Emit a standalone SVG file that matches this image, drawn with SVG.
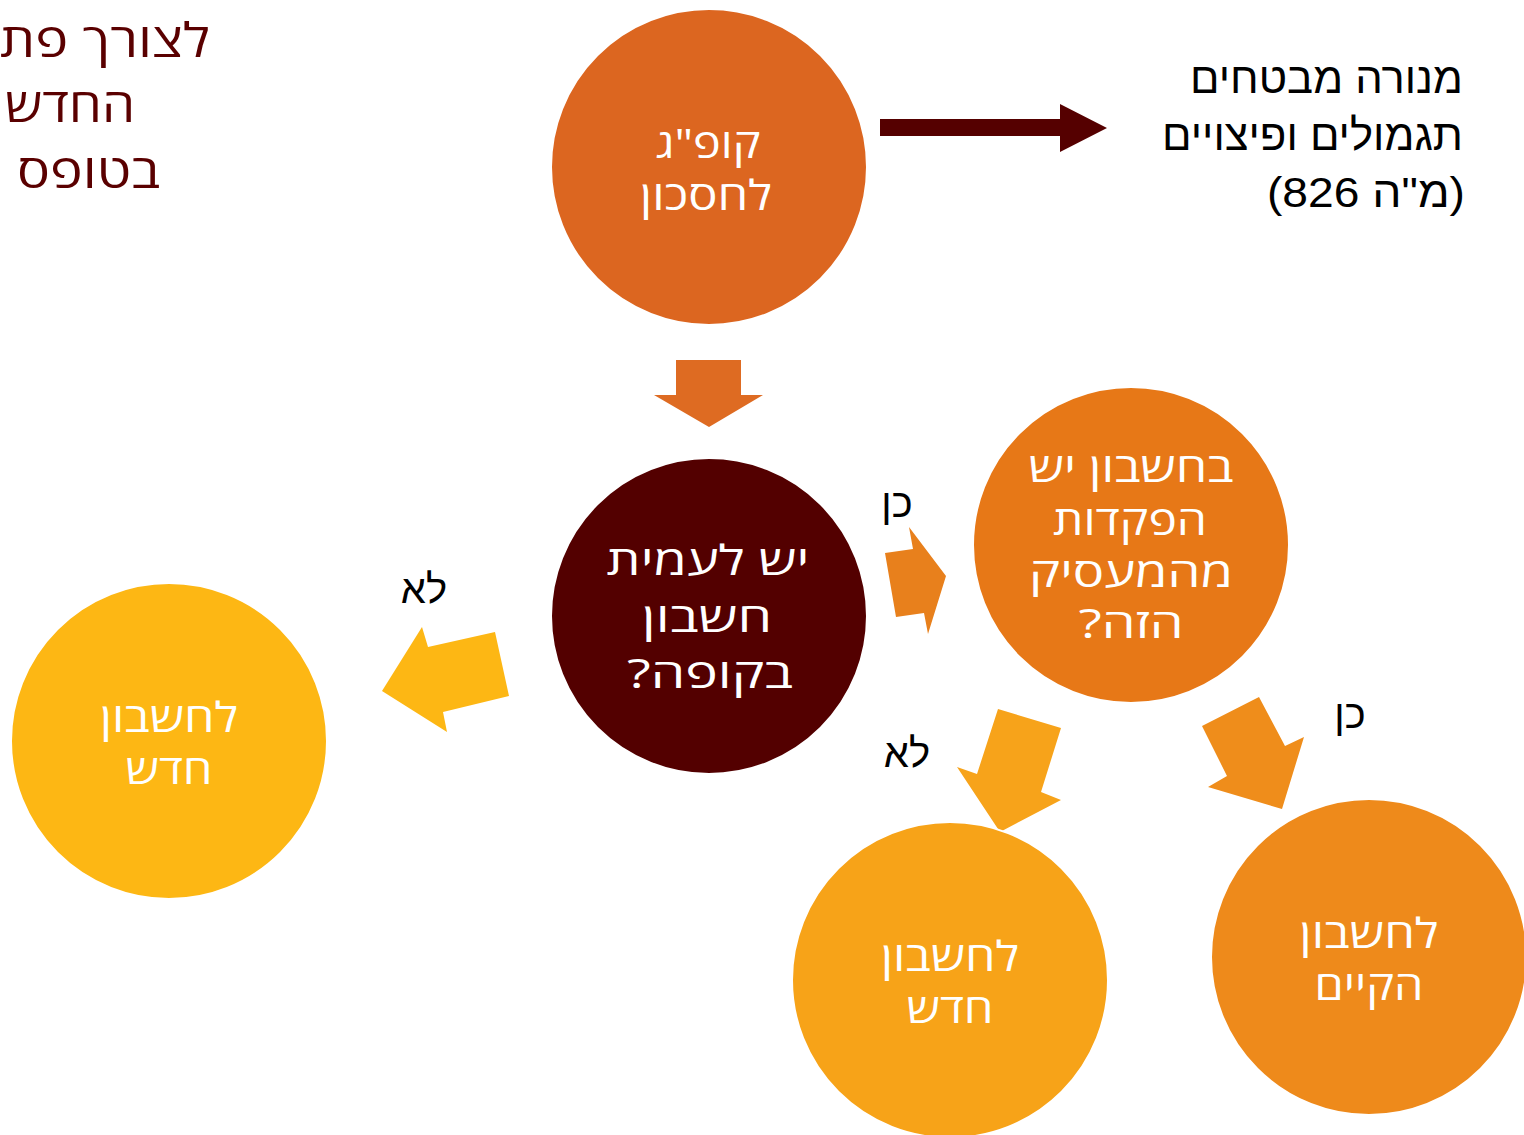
<svg xmlns="http://www.w3.org/2000/svg" width="1524" height="1135" viewBox="0 0 1524 1135">
<style>
.c{stroke:#fff;stroke-width:2}
.t{font-family:"Open Sans","DejaVu Sans",sans-serif;fill:#fff;text-anchor:middle;direction:rtl;font-size:41px}
.lab{font-family:"Liberation Sans",Arial,sans-serif;font-size:40px;fill:#000;text-anchor:middle;direction:rtl}
.side{font-family:"Liberation Sans",Arial,sans-serif;font-size:43px;fill:#000;direction:rtl;text-anchor:start}
.tl{font-family:"Open Sans","DejaVu Sans",sans-serif;font-size:47px;fill:#5a0000;direction:rtl;text-anchor:start}
</style>
<rect width="1524" height="1135" fill="#fff"/>
<g id="connectors">
<polygon points="880,119 1060,119 1060,104 1107,128 1060,152 1060,136 880,136" fill="#550000"/>
<polygon points="676,360 741,360 741,395 763,395 709,427 654,395 676,395" fill="#de6b22"/>
<polygon points="495,632 509,696 443,712 447,732 382,691 422,627 428,647" fill="#fdb714"/>
<polygon points="909,527 946,576 928,634 924,613 896,617 885,553 913,549" fill="#e8801c"/>
<polygon points="998,709 1061,728 1041,792 1061,800 1000,832 957,767 977,774" fill="#f7a31a"/>
<polygon points="1202,726 1259,697 1285,746 1304,737 1282,809 1208,787 1227,776" fill="#ef8d1b"/>
</g>
<g id="label-left-no"><text class="lab" x="424" y="603">לא</text></g>
<g id="label-yes-1"><text class="lab" x="897" y="517">כן</text></g>
<g id="label-no-2"><text class="lab" x="907" y="767">לא</text></g>
<g id="label-yes-2"><text class="lab" x="1350" y="728">כן</text></g>
<g id="title-left">
<text class="tl" x="210" y="57" textLength="210" lengthAdjust="spacingAndGlyphs">לצורך פת</text>
<text class="tl" x="135" y="122" textLength="130" lengthAdjust="spacingAndGlyphs">החדש</text>
<text class="tl" x="160" y="188" textLength="143" lengthAdjust="spacingAndGlyphs">בטופס</text>
</g>
<g id="note-right">
<text class="side" x="1463" y="93" textLength="273" lengthAdjust="spacingAndGlyphs">מנורה מבטחים</text>
<text class="side" x="1463" y="150" textLength="301" lengthAdjust="spacingAndGlyphs">תגמולים ופיצויים</text>
<text class="side" x="1465" y="207" textLength="198" lengthAdjust="spacingAndGlyphs">(מ"ה 826)</text>
</g>
<g id="node-kupag">
<circle class="c" cx="709" cy="167" r="158" fill="#dc6620"/>
<text class="t" x="708" y="158" textLength="105" lengthAdjust="spacingAndGlyphs">קופ"ג</text>
<text class="t" x="706" y="210" textLength="132" lengthAdjust="spacingAndGlyphs">לחסכון</text>
</g>
<g id="node-question">
<circle class="c" cx="709" cy="616" r="158" fill="#530000"/>
<text class="t" x="708" y="575" font-size="46" textLength="203" lengthAdjust="spacingAndGlyphs">יש לעמית</text>
<text class="t" x="707" y="632" font-size="46" textLength="130" lengthAdjust="spacingAndGlyphs">חשבון</text>
<text class="t" x="710" y="688" font-size="46" textLength="166" lengthAdjust="spacingAndGlyphs">בקופה?</text>
</g>
<g id="node-new-left">
<circle class="c" cx="169" cy="741" r="158" fill="#fdb714"/>
<text class="t" x="169" y="732" font-size="40" textLength="138" lengthAdjust="spacingAndGlyphs">לחשבון</text>
<text class="t" x="169" y="784" font-size="40" textLength="87" lengthAdjust="spacingAndGlyphs">חדש</text>
</g>
<g id="node-employer">
<circle class="c" cx="1131" cy="545" r="158" fill="#e77817"/>
<text class="t" x="1131" y="482" textLength="205" lengthAdjust="spacingAndGlyphs">בחשבון יש</text>
<text class="t" x="1130" y="535" textLength="154" lengthAdjust="spacingAndGlyphs">הפקדות</text>
<text class="t" x="1131" y="587" textLength="204" lengthAdjust="spacingAndGlyphs">מהמעסיק</text>
<text class="t" x="1131" y="638" textLength="105" lengthAdjust="spacingAndGlyphs">הזה?</text>
</g>
<g id="node-new-bottom">
<circle class="c" cx="950" cy="980" r="158" fill="#f7a318"/>
<text class="t" x="950" y="971" font-size="40" textLength="138" lengthAdjust="spacingAndGlyphs">לחשבון</text>
<text class="t" x="950" y="1023" font-size="40" textLength="87" lengthAdjust="spacingAndGlyphs">חדש</text>
</g>
<g id="node-existing">
<circle class="c" cx="1369" cy="957" r="158" fill="#ee8a1b"/>
<text class="t" x="1369" y="948" textLength="139" lengthAdjust="spacingAndGlyphs">לחשבון</text>
<text class="t" x="1369" y="1000" textLength="109" lengthAdjust="spacingAndGlyphs">הקיים</text>
</g>
</svg>
